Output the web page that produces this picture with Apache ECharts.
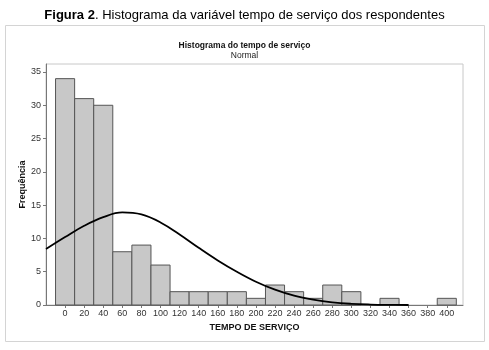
<!DOCTYPE html>
<html>
<head>
<meta charset="utf-8">
<script src="https://cdn.jsdelivr.net/npm/echarts@6/dist/echarts.min.js"></script>
<style>
  html, body { margin: 0; padding: 0; background: #fff; }
  #chart { width: 489px; height: 350px; }
</style>
</head>
<body>
<div id="chart"></div>
<script>
var binCenters = [0, 20, 40, 60, 80, 100, 120, 140, 160, 180, 200, 220, 240, 260, 280, 300, 320, 340, 360, 380, 400];
var binCounts = [34, 31, 30, 8, 9, 6, 2, 2, 2, 2, 1, 3, 2, 1, 3, 2, 0, 1, 0, 0, 1];
var binWidth = 20;

// curva normal ajustada, lida ponto a ponto na figura
var curveX = [-20, 0, 20, 40, 60, 80, 100, 120, 140, 160, 180, 200, 220, 240, 260, 280, 300, 320, 340, 360];
var curveY = [8.4, 10.2, 11.9, 13.2, 13.9, 13.6, 12.4, 10.6, 8.6, 6.7, 5.0, 3.5, 2.3, 1.4, 0.8, 0.4, 0.18, 0.07, 0.02, 0.0];

var yTicks = [0, 5, 10, 15, 20, 25, 30, 35];

var font = '"Liberation Sans", Arial, sans-serif';

var barData = binCenters.map(function (c, i) { return [c, binCounts[i]]; });
var curveData = curveX.map(function (x, i) { return [x, curveY[i]]; });

var chart = echarts.init(document.getElementById('chart'));

chart.setOption({
  animation: false,
  backgroundColor: '#fff',
  graphic: [{
    type: 'rect',
    shape: { x: 5.5, y: 25.5, width: 479, height: 316 },
    style: { fill: 'none', stroke: '#d4d4d4', lineWidth: 1 },
    z: -1
  }],
  title: [{
    text: '{b|Figura 2}. Histograma da variável tempo de serviço dos respondentes',
    left: 'center',
    top: 4,
    textStyle: {
      fontFamily: font, fontSize: 13, fontWeight: 'normal', color: '#000',
      rich: { b: { fontFamily: font, fontSize: 13, fontWeight: 'bold', color: '#000' } }
    }
  }, {
    text: 'Histograma do tempo de serviço',
    left: 'center',
    top: 36,
    textStyle: { fontFamily: font, fontSize: 8.5, fontWeight: 'bold', color: '#111' }
  }, {
    text: 'Normal',
    left: 'center',
    top: 46,
    textStyle: { fontFamily: font, fontSize: 8.5, fontWeight: 'normal', color: '#222' }
  }],
  grid: { left: 46, right: 26, top: 64, bottom: 45, show: true, borderColor: '#c8c8c8', borderWidth: 1 },
  xAxis: {
    type: 'value',
    min: -20,
    max: 417,
    interval: 20,
    name: 'TEMPO DE SERVIÇO',
    nameLocation: 'middle',
    nameGap: 15,
    nameTextStyle: { fontFamily: font, fontSize: 9, fontWeight: 'bold', color: '#111' },
    axisLine: { show: true, onZero: false, lineStyle: { color: '#777', width: 1 } },
    axisTick: { show: true, length: 3, lineStyle: { color: '#777' }, customValues: binCenters },
    splitLine: { show: false },
    axisLabel: {
      fontFamily: font, fontSize: 9, color: '#333', margin: 4,
      customValues: binCenters
    }
  },
  yAxis: {
    type: 'value',
    min: 0,
    max: 36.2,
    interval: 5,
    name: 'Frequência',
    nameLocation: 'middle',
    nameGap: 19,
    nameMoveOverlap: false,
    nameTextStyle: { fontFamily: font, fontSize: 9, fontWeight: 'bold', color: '#111' },
    axisLine: { show: true, onZero: false, lineStyle: { color: '#777', width: 1 } },
    axisTick: { show: true, length: 3, lineStyle: { color: '#777' }, customValues: yTicks },
    splitLine: { show: false },
    axisLabel: {
      fontFamily: font, fontSize: 9, color: '#333', margin: 5,
      customValues: yTicks
    }
  },
  series: [{
    type: 'custom',
    data: barData,
    renderItem: function (params, api) {
      var c = api.value(0);
      var n = api.value(1);
      if (!n) return null;
      var p0 = api.coord([c - binWidth / 2, n]);
      var p1 = api.coord([c + binWidth / 2, 0]);
      return {
        type: 'rect',
        shape: { x: p0[0], y: p0[1], width: p1[0] - p0[0], height: p1[1] - p0[1] },
        style: { fill: '#c8c8c8', stroke: '#555', lineWidth: 1 }
      };
    },
    z: 2
  }, {
    type: 'line',
    data: curveData,
    smooth: 0.4,
    showSymbol: false,
    lineStyle: { color: '#000', width: 1.8 },
    z: 3
  }]
});
</script>
</body>
</html>
